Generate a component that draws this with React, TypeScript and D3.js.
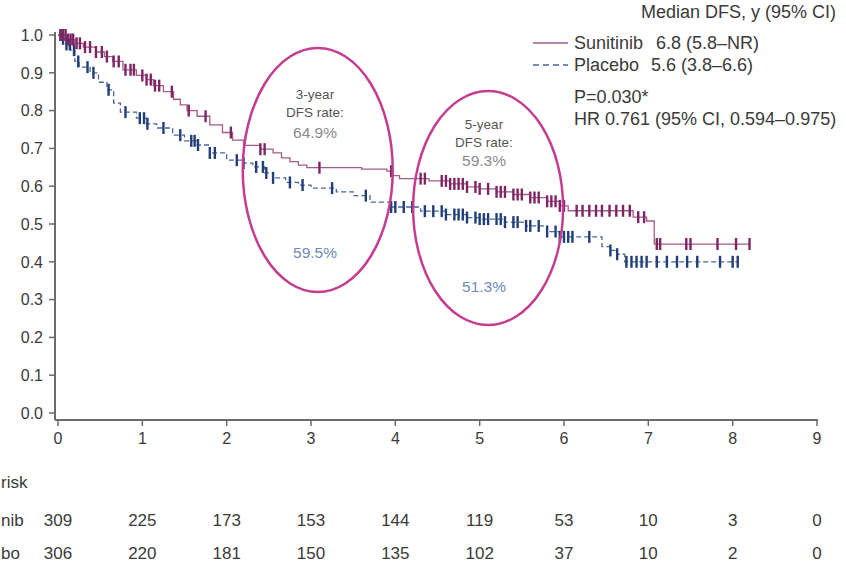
import React from 'react';
import * as d3 from 'd3';

// axis ticks
const yearTicks = [0, 1, 2, 3, 4, 5, 6, 7, 8, 9];
const survTicks = [0, 0.1, 0.2, 0.3, 0.4, 0.5, 0.6, 0.7, 0.8, 0.9, 1.0];

// Kaplan-Meier steps (time in years, survival after the step)
const sunitinibTimes = [0, 0.1, 0.2, 0.3, 0.45, 0.55, 0.65, 0.77, 0.93, 1.05, 1.13, 1.25, 1.37, 1.45, 1.53, 1.65, 1.8, 1.95, 2.07, 2.2, 2.4, 2.55, 2.65, 2.75, 2.85, 2.95, 3.6, 3.9, 3.97, 4.05, 4.4, 4.65, 4.85, 5.0, 5.2, 5.4, 5.6, 5.8, 5.95, 6.05, 6.82, 6.98, 7.07];
const sunitinibSurv = [1.0, 0.988, 0.978, 0.968, 0.955, 0.943, 0.93, 0.908, 0.893, 0.882, 0.866, 0.85, 0.83, 0.815, 0.8, 0.785, 0.762, 0.742, 0.722, 0.708, 0.698, 0.688, 0.675, 0.665, 0.656, 0.649, 0.645, 0.64, 0.628, 0.62, 0.614, 0.606, 0.598, 0.593, 0.585, 0.578, 0.57, 0.56, 0.548, 0.535, 0.518, 0.508, 0.447];
const sunitinibEnd = 8.2;

const placeboTimes = [0, 0.05, 0.1, 0.15, 0.2, 0.25, 0.38, 0.48, 0.58, 0.66, 0.74, 0.93, 1.05, 1.17, 1.36, 1.5, 1.65, 1.8, 2.0, 2.2, 2.31, 2.45, 2.55, 2.7, 2.85, 3.0, 3.3, 3.5, 3.7, 3.95, 4.3, 4.6, 4.85, 5.0, 5.3, 5.55, 5.8, 5.95, 6.45, 6.55, 6.63, 6.72];
const placeboSurv = [1.0, 0.99, 0.975, 0.96, 0.93, 0.915, 0.9, 0.875, 0.855, 0.82, 0.796, 0.78, 0.765, 0.754, 0.735, 0.72, 0.709, 0.688, 0.669, 0.661, 0.651, 0.635, 0.622, 0.61, 0.603, 0.595, 0.585, 0.575, 0.558, 0.545, 0.534, 0.525, 0.517, 0.513, 0.505, 0.495, 0.48, 0.466, 0.44, 0.43, 0.42, 0.4];
const placeboEnd = 8.07;

// censoring times
const sunitinibCensor = [0.03, 0.06, 0.09, 0.12, 0.15, 0.18, 0.22, 0.26, 0.32, 0.38, 0.45, 0.52, 0.58, 0.66, 0.72, 0.8, 0.86, 0.9, 1.0, 1.05, 1.1, 1.15, 1.2, 1.35, 1.55, 1.75, 2.05, 2.4, 2.45, 3.1, 3.95, 4.3, 4.35, 4.55, 4.6, 4.65, 4.7, 4.75, 4.8, 4.85, 4.95, 5.0, 5.1, 5.2, 5.25, 5.3, 5.4, 5.45, 5.5, 5.6, 5.65, 5.7, 5.8, 5.85, 5.9, 5.95, 6.0, 6.15, 6.22, 6.3, 6.38, 6.45, 6.54, 6.62, 6.7, 6.78, 6.88, 6.95, 7.1, 7.14, 7.45, 7.5, 7.82, 8.04, 8.2];
const placeboCensor = [0.03, 0.06, 0.1, 0.14, 0.19, 0.24, 0.35, 0.42, 0.6, 0.8, 0.97, 1.02, 1.06, 1.25, 1.45, 1.58, 1.62, 1.66, 1.8, 1.86, 2.12, 2.2, 2.35, 2.43, 2.47, 2.55, 2.75, 2.9, 3.25, 3.65, 3.95, 4.0, 4.1, 4.2, 4.35, 4.45, 4.55, 4.6, 4.7, 4.75, 4.8, 4.85, 4.95, 5.0, 5.05, 5.1, 5.2, 5.25, 5.3, 5.4, 5.45, 5.55, 5.6, 5.7, 5.8, 5.9, 5.95, 6.0, 6.05, 6.1, 6.3, 6.55, 6.63, 6.74, 6.8, 6.86, 6.92, 6.98, 7.1, 7.22, 7.34, 7.46, 7.58, 7.85, 8.0, 8.06];

// legend rows
const legendNames = ['Sunitinib', 'Placebo'];
const legendMedians = ['6.8 (5.8–NR)', '5.6 (3.8–6.6)'];

// number at risk (row labels are cropped at the left edge in the picture)
const atRiskLabels = ['risk', 'nib', 'bo'];
const atRiskSunitinib = [309, 225, 173, 153, 144, 119, 53, 10, 3, 0];
const atRiskPlacebo = [306, 220, 181, 150, 135, 102, 37, 10, 2, 0];

const SUN_LINE = '#a65b88';
const SUN_MARK = '#7e2563';
const PLA_LINE = '#4a6598';
const PLA_MARK = '#213e78';
const RING = '#c43d91';
const TEXT = '#3a3a3a';
const FONT = 'Liberation Sans, Arial, sans-serif';

const x = d3.scaleLinear().domain([0, 9]).range([58, 817]);
const y = d3.scaleLinear().domain([0, 1]).range([413, 35]);

const survAt = (times: number[], surv: number[], t: number) => {
  const i = d3.bisectRight(times, t) - 1;
  return surv[Math.max(0, i)];
};

const stepPath = (times: number[], surv: number[], end: number) => {
  const pts: [number, number][] = times.map((t, i) => [t, surv[i]]);
  pts.push([end, surv[surv.length - 1]]);
  return d3.line<[number, number]>()
    .x((d) => x(d[0]))
    .y((d) => y(d[1]))
    .curve(d3.curveStepAfter)(pts) as string;
};

export default function App() {
  return (
    <svg width={846} height={566} style={{ position: 'absolute', left: 0, top: 0, background: '#fff' }} fontFamily={FONT}>
      {/* axes */}
      <line x1={55} x2={55} y1={32} y2={420} stroke="#6b6b6b" strokeWidth={2} />
      <line x1={55} x2={818} y1={420} y2={420} stroke="#6b6b6b" strokeWidth={2} />
      {survTicks.map((v) => (
        <g key={v}>
          <line x1={49} x2={55} y1={y(v)} y2={y(v)} stroke="#6b6b6b" strokeWidth={1.5} />
          <text x={43} y={y(v)} dy="0.36em" textAnchor="end" fontSize={16} fill={TEXT}>{v.toFixed(1)}</text>
        </g>
      ))}
      {yearTicks.map((v) => (
        <g key={v}>
          <line x1={x(v)} x2={x(v)} y1={420} y2={426} stroke="#6b6b6b" strokeWidth={1.5} />
          <text x={x(v)} y={444} textAnchor="middle" fontSize={16} fill={TEXT}>{v}</text>
        </g>
      ))}

      {/* curves */}
      <path d={stepPath(placeboTimes, placeboSurv, placeboEnd)} fill="none" stroke={PLA_LINE} strokeWidth={1.3} strokeDasharray="5,3" />
      <path d={stepPath(sunitinibTimes, sunitinibSurv, sunitinibEnd)} fill="none" stroke={SUN_LINE} strokeWidth={1.3} />
      {placeboCensor.map((t, i) => {
        const cy = y(survAt(placeboTimes, placeboSurv, t));
        return <line key={'p' + i} x1={x(t)} x2={x(t)} y1={cy - 6} y2={cy + 6} stroke={PLA_MARK} strokeWidth={2.4} />;
      })}
      {sunitinibCensor.map((t, i) => {
        const cy = y(survAt(sunitinibTimes, sunitinibSurv, t));
        return <line key={'s' + i} x1={x(t)} x2={x(t)} y1={cy - 6} y2={cy + 6} stroke={SUN_MARK} strokeWidth={2.4} />;
      })}

      {/* highlight rings */}
      <ellipse cx={x(3.08)} cy={170} rx={75} ry={122} fill="none" stroke={RING} strokeWidth={2.5} />
      <ellipse cx={x(5.1)} cy={208} rx={75} ry={117} fill="none" stroke={RING} strokeWidth={2.5} />
      <g fontSize={13.5} textAnchor="middle" fill="#555">
        <text x={315} y={99}>3-year</text>
        <text x={315} y={117}>DFS rate:</text>
        <text x={315} y={138} fontSize={15.5} fill="#8a8a8a">64.9%</text>
        <text x={315} y={258} fontSize={15.5} fill="#6f89ba">59.5%</text>
        <text x={484} y={129}>5-year</text>
        <text x={484} y={147}>DFS rate:</text>
        <text x={484} y={166} fontSize={15.5} fill="#8a8a8a">59.3%</text>
        <text x={484} y={292} fontSize={15.5} fill="#6f89ba">51.3%</text>
      </g>

      {/* legend */}
      <g fontSize={18} fill={TEXT}>
        <text x={836} y={18} textAnchor="end">Median DFS, y (95% CI)</text>
        <line x1={533} x2={568} y1={43} y2={43} stroke={SUN_LINE} strokeWidth={1.5} />
        <line x1={533} x2={568} y1={65} y2={65} stroke={PLA_LINE} strokeWidth={1.3} strokeDasharray="6,4" />
        {legendNames.map((name, i) => (
          <g key={name}>
            <text x={574} y={49 + i * 22}>{name}</text>
            <text x={i === 0 ? 656 : 651} y={49 + i * 22}>{legendMedians[i]}</text>
          </g>
        ))}
        <text x={574} y={103}>P=0.030*</text>
        <text x={574} y={125}>HR 0.761 (95% CI, 0.594–0.975)</text>
      </g>

      {/* number at risk */}
      <g fontSize={17} fill={TEXT}>
        <text x={1} y={488}>{atRiskLabels[0]}</text>
        <text x={1} y={526}>{atRiskLabels[1]}</text>
        <text x={1} y={559}>{atRiskLabels[2]}</text>
        {atRiskSunitinib.map((n, i) => (
          <text key={'rs' + i} x={x(yearTicks[i])} y={526} textAnchor="middle">{n}</text>
        ))}
        {atRiskPlacebo.map((n, i) => (
          <text key={'rp' + i} x={x(yearTicks[i])} y={559} textAnchor="middle">{n}</text>
        ))}
      </g>
    </svg>
  );
}
